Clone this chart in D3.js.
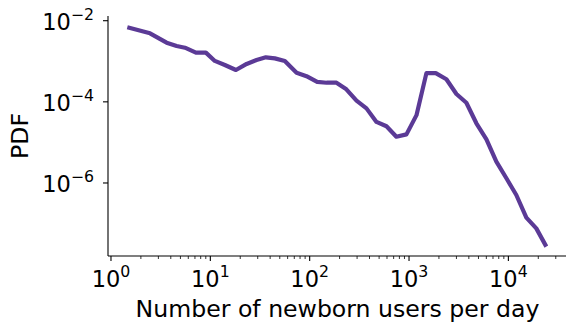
<!DOCTYPE html>
<html><head><meta charset="utf-8">
<script src="https://cdn.jsdelivr.net/npm/d3@7"></script>
<style>html,body{margin:0;padding:0;background:#fff;}svg{display:block;}</style>
</head><body>
<svg id="chart" width="566" height="326"></svg>
<script>
// Data
const users = [1.46, 2.47, 3.63, 4.58, 5.55, 7.16, 9.02, 11.1, 14.0, 18.1, 23.2, 29.2, 36.2, 44.6, 56.2, 73.8, 92.9, 119, 148, 186, 234, 296, 373, 470, 593, 746, 942, 1189, 1496, 1858, 2377, 3000, 3776, 4764, 6012, 7568, 9550, 12020, 15170, 19100, 24100];
const pdf = [6.87e-3, 4.89e-3, 2.87e-3, 2.38e-3, 2.16e-3, 1.63e-3, 1.63e-3, 1.02e-3, 8.1e-4, 6.1e-4, 8.6e-4, 1.07e-3, 1.25e-3, 1.18e-3, 1.02e-3, 5.2e-4, 4.3e-4, 3.1e-4, 2.96e-4, 2.96e-4, 2.04e-4, 1.07e-4, 6.9e-5, 3.2e-5, 2.5e-5, 1.38e-5, 1.58e-5, 4.7e-5, 5.1e-4, 5.1e-4, 3.6e-4, 1.56e-4, 9.5e-5, 2.96e-5, 1.19e-5, 3.35e-6, 1.31e-6, 5.06e-7, 1.40e-7, 7.6e-8, 2.7e-8];
const xTickExps = [0, 1, 2, 3, 4];
const yTickExps = [-2, -4, -6];
const xLabel = "Number of newborn users per day";
const yLabel = "PDF";

(function () {
const svg = d3.select("#chart");
const font = "'DejaVu Sans', sans-serif";
const fs = 22.5, sfs = 15.75, lfs = 23.6;
const pL = 108, pR = 566, pT = 16, pB = 256;

const x = d3.scaleLog().domain([Math.pow(10, -0.03), Math.pow(10, 4.58)]).range([pL, pR]);
const y = d3.scaleLog().domain([Math.pow(10, -7.80), Math.pow(10, -1.884)]).range([pB, pT]);

const minor = [];
for (let e = 0; e <= 4; e++) for (let m = 2; m <= 9; m++) { const v = m * Math.pow(10, e); if (v <= x.domain()[1]) minor.push(v); }

const gx = svg.append("g").attr("transform", `translate(0,${pB})`);
gx.append("line").attr("x1", pL).attr("x2", pR).attr("stroke", "#000").attr("stroke-width", 1.1);
gx.selectAll("line.minor").data(minor).join("line").attr("class", "minor")
  .attr("x1", d => x(d)).attr("x2", d => x(d)).attr("y1", 0).attr("y2", 3).attr("stroke", "#000").attr("stroke-width", 0.8);
gx.selectAll("line.major").data(xTickExps).join("line").attr("class", "major")
  .attr("x1", d => x(Math.pow(10, d))).attr("x2", d => x(Math.pow(10, d))).attr("y1", 0).attr("y2", 5).attr("stroke", "#000").attr("stroke-width", 1.1);
const xt = gx.selectAll("text").data(xTickExps).join("text")
  .attr("x", d => x(Math.pow(10, d))).attr("y", 30.7).attr("text-anchor", "middle")
  .attr("font-family", font).attr("font-size", fs).attr("fill", "#000");
xt.append("tspan").text("10");
xt.append("tspan").attr("dy", -10).attr("font-size", sfs).text(d => String(d));

const gy = svg.append("g");
gy.append("line").attr("x1", pL).attr("x2", pL).attr("y1", pT).attr("y2", pB).attr("stroke", "#000").attr("stroke-width", 1.1);
gy.selectAll("line.major").data(yTickExps).join("line")
  .attr("x1", pL - 5).attr("x2", pL).attr("y1", d => y(Math.pow(10, d))).attr("y2", d => y(Math.pow(10, d))).attr("stroke", "#000").attr("stroke-width", 1.1);
const yt = gy.selectAll("text").data(yTickExps).join("text")
  .attr("x", 94).attr("y", d => y(Math.pow(10, d)) + 9.3).attr("text-anchor", "end")
  .attr("font-family", font).attr("font-size", fs).attr("fill", "#000");
yt.append("tspan").text("10");
yt.append("tspan").attr("dy", -10).attr("font-size", sfs).text(d => "\u2212" + Math.abs(d));

svg.append("text").attr("x", 337.5).attr("y", 317).attr("text-anchor", "middle")
  .attr("font-family", font).attr("font-size", lfs).attr("fill", "#000").text(xLabel);
svg.append("text").attr("transform", `translate(28.3,${(pT + pB) / 2}) rotate(-90)`).attr("text-anchor", "middle")
  .attr("font-family", font).attr("font-size", lfs).attr("fill", "#000").text(yLabel);

const line = d3.line().x((d, i) => x(users[i])).y(d => y(d));
svg.append("path").datum(pdf).attr("d", line).attr("fill", "none")
  .attr("stroke", "#5b3a96").attr("stroke-width", 4.2).attr("stroke-linejoin", "round").attr("stroke-linecap", "butt");
})();
</script>
</body></html>
